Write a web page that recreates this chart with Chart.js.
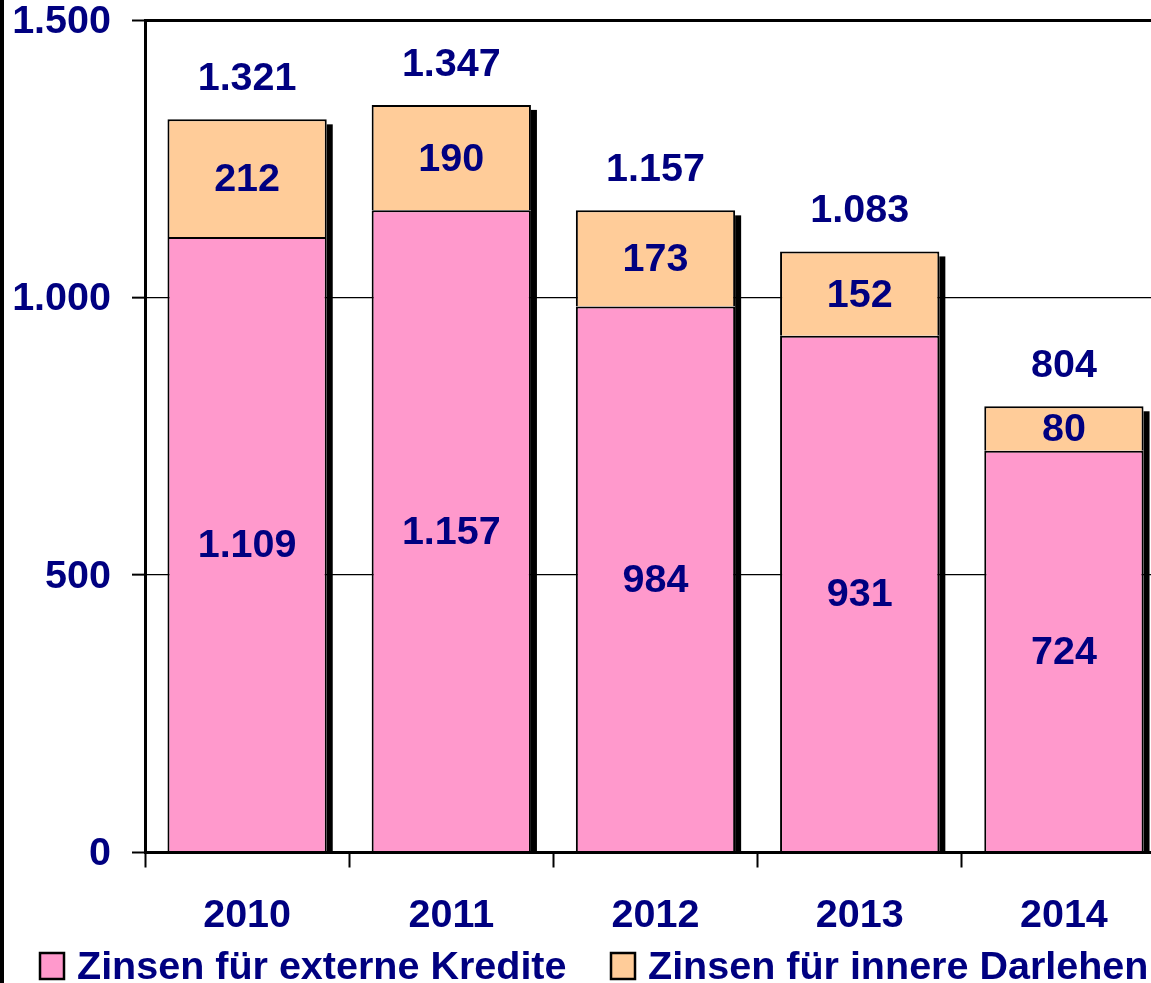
<!DOCTYPE html>
<html>
<head>
<meta charset="utf-8">
<script src="https://cdn.jsdelivr.net/npm/chart.js@4"></script>
<style>
html, body { margin: 0; padding: 0; background: #fff; overflow: hidden; }
#wrap { width: 1172px; height: 983px; position: relative; }
</style>
</head>
<body>
<div id="wrap"><canvas id="zinsen_chart"></canvas></div>
<script>
const years = ['2010', '2011', '2012', '2013', '2014'];
const externeKredite = [1109, 1157, 984, 931, 724];
const innereDarlehen = [212, 190, 173, 152, 80];
const totals = [1321, 1347, 1157, 1083, 804];
const yTicks = [0, 500, 1000, 1500];
const seriesNames = ['Zinsen für externe Kredite', 'Zinsen für innere Darlehen'];

const navy = '#000080';
const fontFamily = '"Liberation Sans", Arial, sans-serif';
const legendBoxX = [40, 611];

function fmt(v) {
    // German thousands separator
    return String(v).replace(/\B(?=(\d{3})+(?!\d))/g, '.');
}

// shadows, value labels, legend and the left frame line
const barExtras = {
    id: 'barExtras',
    beforeDatasetsDraw(chart) {
        const ctx = chart.ctx;
        const area = chart.chartArea;
        const lower = chart.getDatasetMeta(0).data;
        const upper = chart.getDatasetMeta(1).data;
        ctx.save();
        ctx.beginPath();
        ctx.rect(area.left, area.top, area.right - area.left, area.bottom - area.top);
        ctx.clip();
        ctx.fillStyle = '#000';
        upper.forEach((bar, i) => {
            const right = bar.x + bar.width / 2;
            const base = lower[i].base;
            ctx.fillRect(right, bar.y + 5, 6, base - bar.y - 5);
        });
        ctx.restore();
    },
    afterDatasetsDraw(chart) {
        const ctx = chart.ctx;
        ctx.save();
        ctx.font = 'bold 39.5px ' + fontFamily;
        ctx.fillStyle = navy;
        ctx.textAlign = 'center';
        ctx.textBaseline = 'middle';
        chart.data.datasets.forEach((ds, d) => {
            chart.getDatasetMeta(d).data.forEach((bar, i) => {
                ctx.fillText(fmt(ds.data[i]), bar.x, (bar.y + bar.base) / 2 + 2);
            });
        });
        chart.getDatasetMeta(1).data.forEach((bar, i) => {
            ctx.fillText(fmt(totals[i]), bar.x, bar.y - 40);
        });
        ctx.restore();
    },
    afterDraw(chart) {
        const ctx = chart.ctx;
        ctx.save();
        ctx.fillStyle = '#000';
        ctx.fillRect(0, 0, 4, chart.height);

        // legend below the axis
        ctx.font = 'bold 39.5px ' + fontFamily;
        ctx.textAlign = 'left';
        ctx.textBaseline = 'alphabetic';
        chart.data.datasets.forEach((ds, d) => {
            const bx = legendBoxX[d];
            ctx.fillStyle = ds.backgroundColor;
            ctx.fillRect(bx, 953, 24, 26);
            ctx.lineWidth = 2.5;
            ctx.strokeStyle = '#000';
            ctx.strokeRect(bx, 953, 24, 26);
            ctx.fillStyle = navy;
            ctx.fillText(ds.label, bx + 37, 979);
        });
        ctx.restore();
    }
};

let chart;
Init();

function Init()
{
    const ctx = document.getElementById('zinsen_chart').getContext('2d');
    const data = {
        labels: years,
        datasets: [{
            label: seriesNames[0],
            data: externeKredite,
            backgroundColor: '#FF99CC',
            borderColor: '#000',
            borderWidth: 2,
            barPercentage: 0.78,
            categoryPercentage: 1.0
        }, {
            label: seriesNames[1],
            data: innereDarlehen,
            backgroundColor: '#FFCC99',
            borderColor: '#000',
            borderWidth: 2,
            barPercentage: 0.78,
            categoryPercentage: 1.0
        }]
    };
    const config = {
        type: 'bar',
        data: data,
        options: {
            responsive: true,
            maintainAspectRatio: false,
            animation: false,
            events: [],
            layout: { padding: { left: 13, right: 6, top: 20, bottom: 18 } },
            scales: {
                x: {
                    stacked: true,
                    grid: {
                        drawOnChartArea: false,
                        drawTicks: true,
                        tickLength: 15,
                        tickWidth: 2,
                        color: '#000'
                    },
                    border: { display: true, width: 3, color: '#000' },
                    ticks: {
                        color: navy,
                        padding: 29,
                        font: { family: fontFamily, size: 39.5, weight: 'bold', lineHeight: 1 }
                    }
                },
                y: {
                    stacked: true,
                    min: 0,
                    max: 1500,
                    afterBuildTicks(axis) {
                        axis.ticks = yTicks.map(v => ({ value: v }));
                    },
                    afterFit(axis) {
                        axis.width = 132;
                        axis.paddingTop = 0;
                        axis.paddingBottom = 0;
                    },
                    grid: {
                        color: '#000',
                        lineWidth: c => (c.tick && (c.tick.value === 0 || c.tick.value === 1500)) ? 3 : 1.3,
                        tickLength: 13,
                        tickWidth: 2,
                        tickColor: '#000'
                    },
                    border: { display: true, width: 3, color: '#000' },
                    ticks: {
                        color: navy,
                        padding: 21,
                        labelOffset: 2,
                        callback: v => fmt(v),
                        font: { family: fontFamily, size: 39.5, weight: 'bold', lineHeight: 1 }
                    }
                }
            },
            plugins: {
                legend: { display: false },
                tooltip: { enabled: false }
            }
        },
        plugins: [barExtras]
    };
    chart = new Chart(ctx, config);
}
</script>
</body>
</html>
